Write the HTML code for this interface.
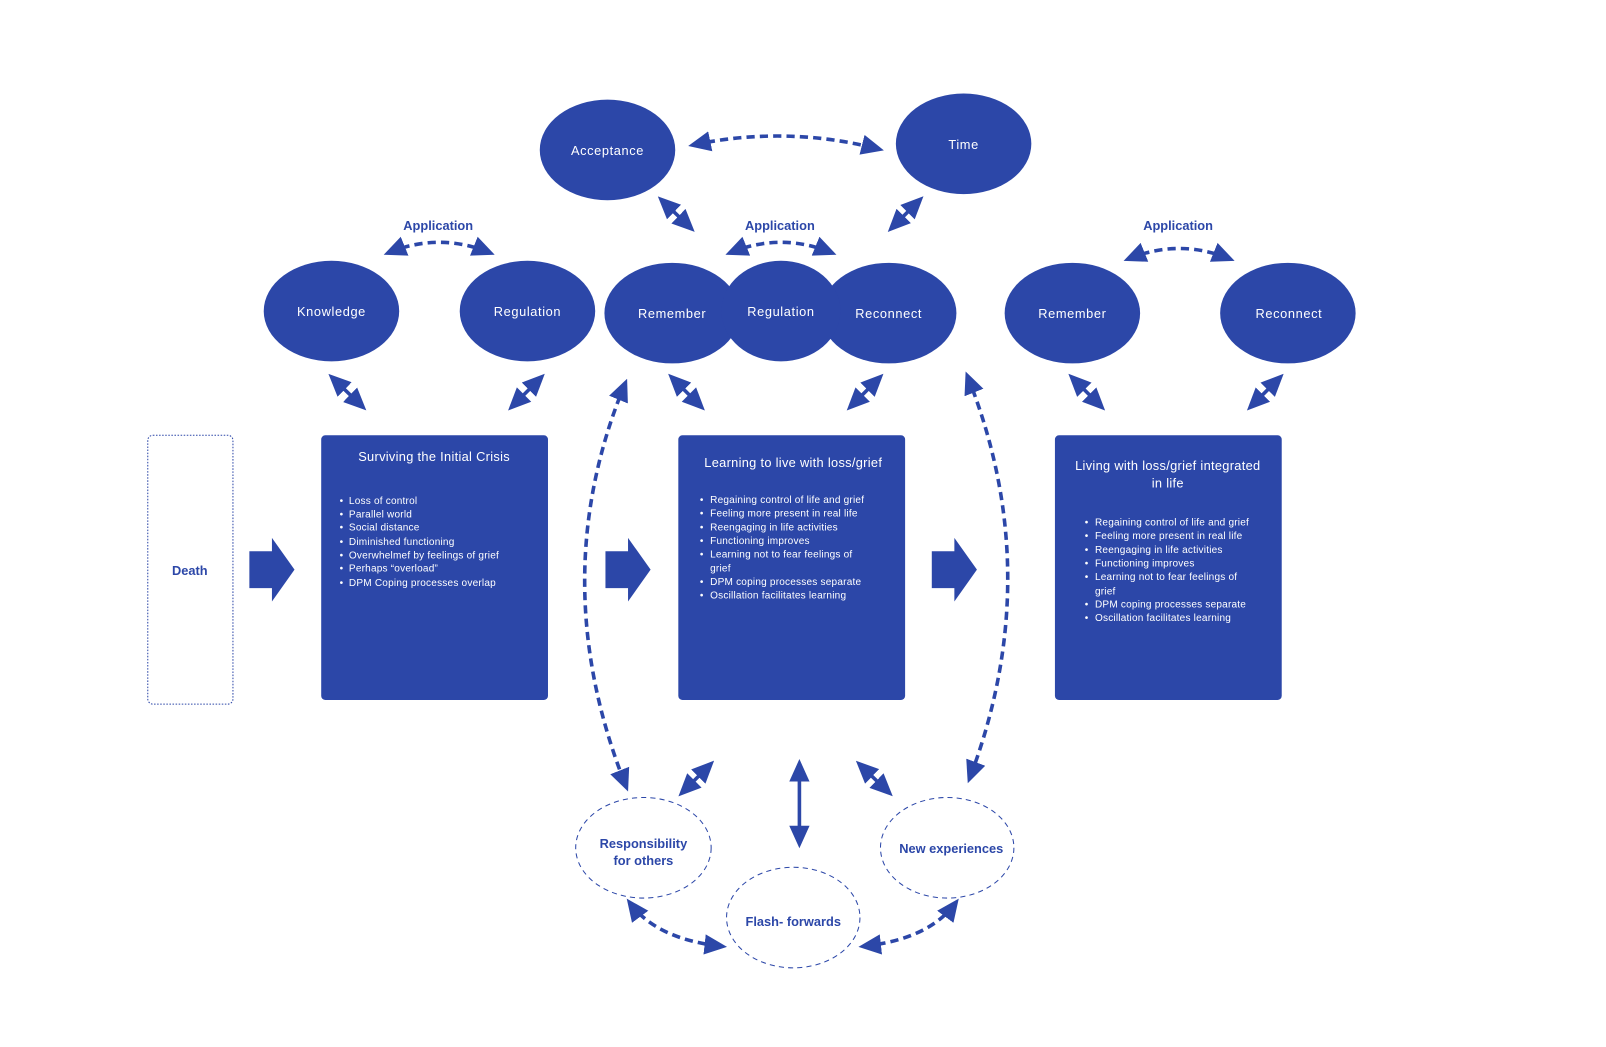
<!DOCTYPE html>
<html><head><meta charset="utf-8"><style>
html,body{margin:0;padding:0;background:#fff;}
svg{display:block;}
text{font-family:"Liberation Sans",sans-serif;}
</style></head><body>
<svg width="1606" height="1047" viewBox="0 0 1565 1020" xmlns="http://www.w3.org/2000/svg">
<defs>
<marker id="a" markerUnits="userSpaceOnUse" markerWidth="22" markerHeight="22" viewBox="0 0 20 18" refX="15" refY="9" orient="auto-start-reverse">
<path d="M0,0 L20,9 L0,18 z" fill="#2c47a8"/></marker>
</defs>
<g fill="#2c47a8">
<ellipse cx="592" cy="146" rx="66" ry="49"/>
<ellipse cx="939" cy="140" rx="66" ry="49"/>
<ellipse cx="323" cy="303" rx="66" ry="49"/>
<ellipse cx="514" cy="303" rx="66" ry="49"/>
<ellipse cx="655" cy="305" rx="66" ry="49"/>
<ellipse cx="866" cy="305" rx="66" ry="49"/>
<ellipse cx="761" cy="303" rx="58" ry="49"/>
<ellipse cx="1045" cy="305" rx="66" ry="49"/>
<ellipse cx="1255" cy="305" rx="66" ry="49"/>
<rect x="313" y="424" width="221" height="258" rx="4"/>
<rect x="661" y="424" width="221" height="258" rx="4"/>
<rect x="1028" y="424" width="221" height="258" rx="4"/>
<path d="M243,537 L265,537 L265,524 L287,555 L265,586 L265,573 L243,573 z"/>
<path d="M590,537 L612,537 L612,524 L634,555 L612,586 L612,573 L590,573 z"/>
<path d="M908,537 L930,537 L930,524 L952,555 L930,586 L930,573 L908,573 z"/>
</g>
<rect x="144" y="424" width="83" height="262" rx="5" fill="none" stroke="#2c47a8" stroke-width="1" stroke-dasharray="1.5 1.5"/>
<g fill="none" stroke="#2c47a8" stroke-width="1" stroke-dasharray="5 4">
<ellipse cx="627" cy="826" rx="66" ry="49"/>
<ellipse cx="773" cy="894" rx="65" ry="49"/>
<ellipse cx="923" cy="826" rx="65" ry="49"/>
</g>
<g stroke="#2c47a8" stroke-width="3.5" fill="none" marker-start="url(#a)" marker-end="url(#a)">
<line x1="645" y1="195" x2="673" y2="222"/>
<line x1="896" y1="195" x2="869" y2="222"/>
<line x1="324" y1="368" x2="353" y2="396"/>
<line x1="527" y1="368" x2="499" y2="396"/>
<line x1="655" y1="368" x2="683" y2="396"/>
<line x1="857" y1="368" x2="829" y2="396"/>
<line x1="1045" y1="368" x2="1073" y2="396"/>
<line x1="1247" y1="368" x2="1219" y2="396"/>
<line x1="665" y1="772" x2="692" y2="745"/>
<line x1="779" y1="745" x2="779" y2="821"/>
<line x1="838" y1="745" x2="866" y2="772"/>
</g>
<g stroke="#2c47a8" stroke-width="3.5" fill="none" stroke-dasharray="8 5" marker-start="url(#a)" marker-end="url(#a)">
<path d="M676,141 Q766,122 856,145"/>
<path d="M379,246 Q428,226 477,246"/>
<path d="M712,246 Q761,226 810,246"/>
<path d="M1100,252 Q1149,232 1198,252"/>
<path d="M609,374 Q530,565 610,766"/>
<path d="M943,367 Q1020,560 945,758"/>
<path d="M614,880 Q640,915 703,922"/>
<path d="M842,922 Q905,915 931,880"/>
</g>
<g fill="#fff" font-size="12.5" text-anchor="middle" letter-spacing="0.6">
<text x="592" y="151">Acceptance</text>
<text x="939" y="145">Time</text>
<text x="323" y="308">Knowledge</text>
<text x="514" y="308">Regulation</text>
<text x="655" y="310">Remember</text>
<text x="761" y="308">Regulation</text>
<text x="866" y="310">Reconnect</text>
<text x="1045" y="310">Remember</text>
<text x="1256" y="310">Reconnect</text>
<text x="423" y="449" font-size="12.5" letter-spacing="0.3">Surviving the Initial Crisis</text>
<text x="773" y="455" font-size="12.5" letter-spacing="0.3">Learning to live with loss/grief</text>
<text x="1138" y="458" font-size="12.5" letter-spacing="0.3">Living with loss/grief integrated</text>
<text x="1138" y="475" font-size="12.5" letter-spacing="0.3">in life</text>
</g>
<g fill="#2c47a8" font-size="12.5" font-weight="bold" text-anchor="middle">
<text x="427" y="224">Application</text>
<text x="760" y="224">Application</text>
<text x="1148" y="224">Application</text>
<text x="185" y="560">Death</text>
<text x="627" y="826">Responsibility</text>
<text x="627" y="843">for others</text>
<text x="773" y="902">Flash- forwards</text>
<text x="927" y="831">New experiences</text>
</g>
<g fill="#fff" font-size="9.8" letter-spacing="0.2">
<text x="331" y="491">•</text><text x="340" y="491">Loss of control</text>
<text x="331" y="504">•</text><text x="340" y="504">Parallel world</text>
<text x="331" y="517">•</text><text x="340" y="517">Social distance</text>
<text x="331" y="531">•</text><text x="340" y="531">Diminished functioning</text>
<text x="331" y="544">•</text><text x="340" y="544">Overwhelmef by feelings of grief</text>
<text x="331" y="557">•</text><text x="340" y="557">Perhaps “overload”</text>
<text x="331" y="571">•</text><text x="340" y="571">DPM Coping processes overlap</text>

<text x="682" y="490">•</text><text x="692" y="490">Regaining control of life and grief</text>
<text x="682" y="503">•</text><text x="692" y="503">Feeling more present in real life</text>
<text x="682" y="517">•</text><text x="692" y="517">Reengaging in life activities</text>
<text x="682" y="530">•</text><text x="692" y="530">Functioning improves</text>
<text x="682" y="543">•</text><text x="692" y="543">Learning not to fear feelings of</text>
<text x="692" y="557">grief</text>
<text x="682" y="570">•</text><text x="692" y="570">DPM coping processes separate</text>
<text x="682" y="583">•</text><text x="692" y="583">Oscillation facilitates learning</text>

<text x="1057" y="512">•</text><text x="1067" y="512">Regaining control of life and grief</text>
<text x="1057" y="525">•</text><text x="1067" y="525">Feeling more present in real life</text>
<text x="1057" y="539">•</text><text x="1067" y="539">Reengaging in life activities</text>
<text x="1057" y="552">•</text><text x="1067" y="552">Functioning improves</text>
<text x="1057" y="565">•</text><text x="1067" y="565">Learning not to fear feelings of</text>
<text x="1067" y="579">grief</text>
<text x="1057" y="592">•</text><text x="1067" y="592">DPM coping processes separate</text>
<text x="1057" y="605">•</text><text x="1067" y="605">Oscillation facilitates learning</text>
</g>
</svg>
</body></html>
